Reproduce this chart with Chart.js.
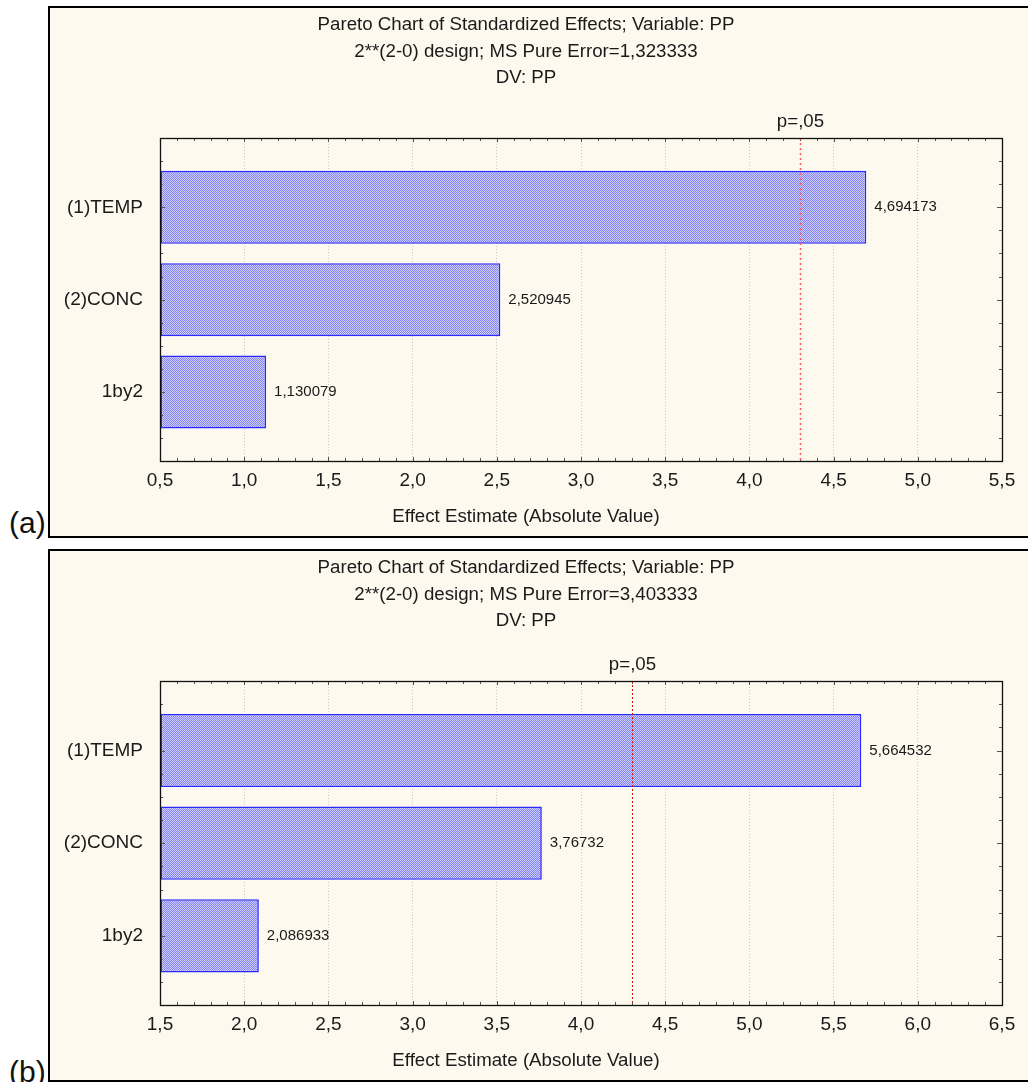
<!DOCTYPE html>
<html>
<head>
<meta charset="utf-8">
<script src="https://cdn.jsdelivr.net/npm/chart.js@4.4.0/dist/chart.umd.min.js"></script>
<style>
  body { margin: 0; background: #fff; width: 1028px; height: 1082px; overflow: hidden; position: relative; font-family: "Liberation Sans", Arial, sans-serif; }
  .panel { position: absolute; left: 48px; width: 1000px; border: 2px solid #000; border-right: none; background: #fdf9ee; }
  .panel canvas { position: absolute; left: 0; top: 0; }
  .tag { position: absolute; left: 9px; font-size: 30px; line-height: 30px; color: #111; }
</style>
</head>
<body>
<div class="panel" style="top:6px;height:528px"><canvas id="chartA" width="978" height="528"></canvas></div>
<div class="tag" style="top:508px">(a)</div>
<div class="panel" style="top:549px;height:529px"><canvas id="chartB" width="978" height="529"></canvas></div>
<div class="tag" style="top:1057px">(b)</div>
<script>
// effects, top to bottom
const effectNames = ['(1)TEMP', '(2)CONC', '1by2'];
const effectsA = [4.694173, 2.520945, 1.130079];
const effectsB = [5.664532, 3.76732, 2.086933];
const pureErrorA = '1,323333';
const pureErrorB = '3,403333';
const xTicksA = [0.5, 1.0, 1.5, 2.0, 2.5, 3.0, 3.5, 4.0, 4.5, 5.0, 5.5];
const xTicksB = [1.5, 2.0, 2.5, 3.0, 3.5, 4.0, 4.5, 5.0, 5.5, 6.0, 6.5];
const tCrit = 4.302653; // p=,05

const FONT = 'Liberation Sans, Arial, sans-serif';
const INK = '#1a1a1a';

function dotPattern() {
  const c = document.createElement('canvas');
  c.width = 4; c.height = 4;
  const g = c.getContext('2d');
  g.fillStyle = '#cdcdfb';
  g.fillRect(0, 0, 4, 4);
  g.fillStyle = '#8585f2';
  for (let y = 0; y < 4; y++)
    for (let x = 0; x < 4; x++)
      if ((x + y) % 2 === 0) g.fillRect(x, y, 1, 1);
  return g.createPattern(c, 'repeat');
}

function decor(values, lineColor, lineDash, lineWidth) {
  return {
    id: 'decor',
    afterDatasetsDraw(chart) {
      const { ctx, chartArea: a, scales: { x, y } } = chart;
      const L = Math.round(a.left), R = Math.round(a.right);
      const T = Math.round(a.top), B = Math.round(a.bottom);
      ctx.save();

      // inward tick marks on all four sides
      ctx.strokeStyle = '#555';
      ctx.lineWidth = 1;
      ctx.beginPath();
      const n = Math.round((x.max - x.min) / 0.1);
      for (let k = 0; k <= n; k++) {
        const px = Math.round(x.getPixelForValue(x.min + k * 0.1)) + 0.5;
        const len = k % 5 === 0 ? 4 : 3;
        ctx.moveTo(px, T); ctx.lineTo(px, T + len);
        ctx.moveTo(px, B); ctx.lineTo(px, B - len);
      }
      const m = Math.round((y.max - y.min) / 0.25);
      for (let k = 0; k <= m; k++) {
        const v = y.min + k * 0.25;
        const py = Math.round(y.getPixelForValue(v)) + 0.5;
        const len = Number.isInteger(v) ? 5 : 3;
        ctx.moveTo(L, py); ctx.lineTo(L + len, py);
        ctx.moveTo(R, py); ctx.lineTo(R - len, py);
      }
      ctx.stroke();

      // critical value line
      const cx = Math.round(x.getPixelForValue(tCrit)) + 0.5;
      ctx.strokeStyle = lineColor;
      ctx.lineWidth = lineWidth;
      ctx.setLineDash(lineDash);
      ctx.beginPath();
      ctx.moveTo(cx, T);
      ctx.lineTo(cx, B);
      ctx.stroke();
      ctx.setLineDash([]);

      // plot frame
      ctx.strokeStyle = '#111';
      ctx.lineWidth = 1.3;
      ctx.strokeRect(L + 0.5, T + 0.5, R - L, B - T);

      ctx.fillStyle = INK;
      ctx.font = '18.7px ' + FONT;
      ctx.textAlign = 'center';
      ctx.textBaseline = 'middle';
      ctx.fillText('p=,05', cx, T - 16);

      ctx.font = '15px ' + FONT;
      ctx.textAlign = 'left';
      chart.getDatasetMeta(0).data.forEach((bar, i) => {
        ctx.fillText(String(values[i]).replace('.', ','), bar.x + 8, bar.y);
      });
      ctx.restore();
    }
  };
}

function paretoChart(id, values, pureError, xTicks, lineColor, lineDash, lineWidth) {
  return new Chart(document.getElementById(id), {
    type: 'bar',
    data: {
      datasets: [{
        data: values.map((v, i) => ({ x: v, y: i })),
        backgroundColor: dotPattern(),
        borderColor: '#2a2aff',
        borderWidth: 1.6,
        borderSkipped: false,
        base: xTicks[0],
        categoryPercentage: 1,
        barPercentage: 0.79
      }]
    },
    options: {
      indexAxis: 'y',
      responsive: false,
      animation: false,
      devicePixelRatio: 1,
      layout: { padding: { right: 26 } },
      plugins: {
        legend: { display: false },
        tooltip: { enabled: false },
        title: {
          display: true,
          text: ['Pareto Chart of Standardized Effects; Variable: PP',
                 '2**(2-0) design; MS Pure Error=' + pureError,
                 'DV: PP'],
          color: INK,
          font: { family: FONT, size: 18.7, weight: 'normal', lineHeight: '26.5px' },
          padding: { top: 3.7, bottom: 46.8 }
        },
        subtitle: {
          display: true,
          position: 'bottom',
          text: 'Effect Estimate (Absolute Value)',
          color: INK,
          font: { family: FONT, size: 18.7, weight: 'normal', lineHeight: 1.2 },
          padding: { top: 4.6, bottom: 7.6 }
        }
      },
      scales: {
        x: {
          type: 'linear',
          min: xTicks[0],
          max: xTicks[xTicks.length - 1],
          afterBuildTicks: s => { s.ticks = xTicks.map(v => ({ value: v })); },
          afterFit: s => { s.height = 40; },
          grid: { color: '#c8c8c8', drawTicks: false },
          border: { display: false, dash: [1, 2] },
          ticks: {
            padding: 7.6,
            color: INK,
            font: { family: FONT, size: 19 },
            callback: v => v.toFixed(1).replace('.', ',')
          }
        },
        y: {
          type: 'linear',
          reverse: true,
          offset: false,
          min: -0.75,
          max: 2.75,
          afterBuildTicks: s => { s.ticks = effectNames.map((_, i) => ({ value: i })); },
          afterFit: s => { s.width = 110; },
          grid: { display: false, offset: false },
          border: { display: false },
          ticks: {
            padding: 9,
            color: INK,
            font: { family: FONT, size: 19 },
            callback: v => effectNames[v]
          }
        }
      }
    },
    plugins: [decor(values, lineColor, lineDash, lineWidth)]
  });
}

paretoChart('chartA', effectsA, pureErrorA, xTicksA, '#ff5a5a', [2, 3], 1.5);
paretoChart('chartB', effectsB, pureErrorB, xTicksB, '#c01818', [2, 2], 1);
</script>
</body>
</html>
